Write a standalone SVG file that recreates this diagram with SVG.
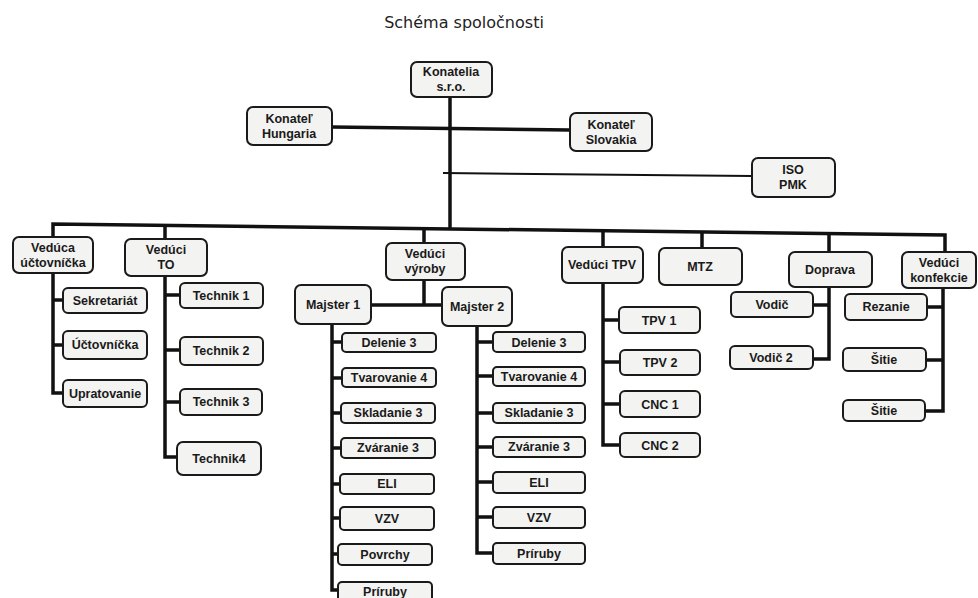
<svg xmlns="http://www.w3.org/2000/svg" width="978" height="598" viewBox="0 0 978 598">
<style>
.bg{fill:#ffffff}
.box{fill:#f3f3f1;stroke:#1a1a1a;stroke-width:2}
.t{font-family:"Liberation Sans",Arial,sans-serif;font-size:12.5px;font-weight:bold;fill:#1a1a1a;text-anchor:middle}
.title{font-family:"DejaVu Sans","Liberation Sans",sans-serif;font-size:16px;fill:#222;text-anchor:middle}
.ln{fill:none;stroke:#111;stroke-width:3.5;stroke-linejoin:miter}
.thin{fill:none;stroke:#111;stroke-width:2}
</style>
<rect class="bg" x="0" y="0" width="978" height="598"/>
<text class="title" x="464" y="28">Schéma spoločnosti</text>
<g id="connectors">
<path class="ln" d="M450,97 V229"/>
<path class="ln" d="M332,127 L570,130"/>
<path class="thin" d="M443,173 L752,176"/>
<path class="ln" d="M53,237 V224 L945,235 V252"/>
<path class="ln" d="M53,273 V393 H63 M53,300 H63 M53,345 H63"/>
<path class="ln" d="M165,225.4 V239 M165,276 V457 H177 M165,295 H180 M165,350 H180 M165,402 H180"/>
<path class="ln" d="M424,228.6 V243 M424,280 V305 M371,305 H442"/>
<path class="ln" d="M332,324 V590 H338 M332,342 H342 M332,378 H342 M332,413 H341 M332,448 H341 M332,484 H340 M332,518 H340 M332,554 H338"/>
<path class="ln" d="M477,326 V553 H493 M477,342 H493 M477,376 H493 M477,413 H493 M477,447 H493 M477,482 H493 M477,517 H493"/>
<path class="ln" d="M603,230.8 V247 M603,283 V445 H620 M603,320 H619 M603,362 H620 M603,404 H620"/>
<path class="ln" d="M702,232 V248"/>
<path class="ln" d="M829,233.6 V252 M829,287 V359 H813 M829,305 H813"/>
<path class="ln" d="M943,288 V411 H925 M943,307 H927 M943,360 H926"/>
</g>
<g id="konatelia"><rect class="box" x="411" y="62" width="81" height="35" rx="6"/><text class="t" x="451" y="76">Konatelia</text><text class="t" x="451" y="91">s.r.o.</text></g>
<g id="hungaria"><rect class="box" x="247" y="107" width="85" height="38" rx="6"/><text class="t" x="289" y="123">Konateľ</text><text class="t" x="289" y="138">Hungaria</text></g>
<g id="slovakia"><rect class="box" x="570" y="113" width="82" height="38" rx="6"/><text class="t" x="611" y="129">Konateľ</text><text class="t" x="611" y="144">Slovakia</text></g>
<g id="iso"><rect class="box" x="752" y="158" width="83" height="39" rx="6"/><text class="t" x="793" y="174">ISO</text><text class="t" x="793" y="189">PMK</text></g>
<g id="veduca-uctovnicka"><rect class="box" x="13" y="237" width="80" height="36" rx="6"/><text class="t" x="53" y="252">Vedúca</text><text class="t" x="53" y="267">účtovníčka</text></g>
<g id="sekretariat"><rect class="box" x="63" y="288" width="84" height="25" rx="5"/><text class="t" x="105" y="305">Sekretariát</text></g>
<g id="uctovnicka"><rect class="box" x="63" y="331" width="84" height="28" rx="5"/><text class="t" x="105" y="349">Účtovníčka</text></g>
<g id="upratovanie"><rect class="box" x="63" y="380" width="84" height="27" rx="5"/><text class="t" x="105" y="398">Upratovanie</text></g>
<g id="veduci-to"><rect class="box" x="125" y="239" width="82" height="37" rx="6"/><text class="t" x="166" y="254">Vedúci</text><text class="t" x="166" y="269">TO</text></g>
<g id="technik1"><rect class="box" x="180" y="283" width="83" height="25" rx="5"/><text class="t" x="221" y="300">Technik 1</text></g>
<g id="technik2"><rect class="box" x="180" y="337" width="83" height="28" rx="5"/><text class="t" x="221" y="355">Technik 2</text></g>
<g id="technik3"><rect class="box" x="180" y="389" width="82" height="26" rx="5"/><text class="t" x="221" y="406">Technik 3</text></g>
<g id="technik4"><rect class="box" x="177" y="442" width="84" height="33" rx="6"/><text class="t" x="219" y="463">Technik4</text></g>
<g id="veduci-vyroby"><rect class="box" x="386" y="243" width="79" height="37" rx="6"/><text class="t" x="425" y="258">Vedúci</text><text class="t" x="425" y="273">výroby</text></g>
<g id="majster1"><rect class="box" x="295" y="285" width="76" height="39" rx="6"/><text class="t" x="333" y="309">Majster 1</text></g>
<g id="majster2"><rect class="box" x="442" y="287" width="70" height="39" rx="6"/><text class="t" x="477" y="311">Majster 2</text></g>
<g id="m1-delenie"><rect class="box" x="342" y="333" width="94" height="19" rx="4"/><text class="t" x="389" y="347">Delenie 3</text></g>
<g id="m1-tvarovanie"><rect class="box" x="342" y="368" width="94" height="19" rx="4"/><text class="t" x="389" y="382">Tvarovanie 4</text></g>
<g id="m1-skladanie"><rect class="box" x="341" y="403" width="94" height="20" rx="4"/><text class="t" x="388" y="417">Skladanie 3</text></g>
<g id="m1-zvaranie"><rect class="box" x="341" y="438" width="94" height="20" rx="4"/><text class="t" x="388" y="452">Zváranie 3</text></g>
<g id="m1-eli"><rect class="box" x="340" y="474" width="94" height="20" rx="4"/><text class="t" x="387" y="488">ELI</text></g>
<g id="m1-vzv"><rect class="box" x="340" y="507" width="94" height="23" rx="4"/><text class="t" x="387" y="523">VZV</text></g>
<g id="m1-povrchy"><rect class="box" x="338" y="544" width="94" height="21" rx="4"/><text class="t" x="385" y="559">Povrchy</text></g>
<g id="m1-priruby"><rect class="box" x="338" y="582" width="94" height="20" rx="4"/><text class="t" x="385" y="596">Príruby</text></g>
<g id="m2-delenie"><rect class="box" x="493" y="332" width="92" height="20" rx="4"/><text class="t" x="539" y="347">Delenie 3</text></g>
<g id="m2-tvarovanie"><rect class="box" x="493" y="367" width="92" height="19" rx="4"/><text class="t" x="539" y="381">Tvarovanie 4</text></g>
<g id="m2-skladanie"><rect class="box" x="493" y="403" width="92" height="20" rx="4"/><text class="t" x="539" y="417">Skladanie 3</text></g>
<g id="m2-zvaranie"><rect class="box" x="493" y="437" width="92" height="20" rx="4"/><text class="t" x="539" y="451">Zváranie 3</text></g>
<g id="m2-eli"><rect class="box" x="493" y="472" width="92" height="21" rx="4"/><text class="t" x="539" y="487">ELI</text></g>
<g id="m2-vzv"><rect class="box" x="493" y="507" width="92" height="21" rx="4"/><text class="t" x="539" y="522">VZV</text></g>
<g id="m2-priruby"><rect class="box" x="493" y="543" width="92" height="21" rx="4"/><text class="t" x="539" y="558">Príruby</text></g>
<g id="veduci-tpv"><rect class="box" x="562" y="247" width="81" height="36" rx="6"/><text class="t" x="602" y="269">Vedúci TPV</text></g>
<g id="tpv1"><rect class="box" x="619" y="307" width="81" height="26" rx="5"/><text class="t" x="659" y="325">TPV 1</text></g>
<g id="tpv2"><rect class="box" x="620" y="350" width="80" height="25" rx="5"/><text class="t" x="660" y="367">TPV 2</text></g>
<g id="cnc1"><rect class="box" x="620" y="391" width="80" height="26" rx="5"/><text class="t" x="660" y="409">CNC 1</text></g>
<g id="cnc2"><rect class="box" x="620" y="433" width="80" height="24" rx="5"/><text class="t" x="660" y="450">CNC 2</text></g>
<g id="mtz"><rect class="box" x="659" y="248" width="83" height="37" rx="6"/><text class="t" x="700" y="271">MTZ</text></g>
<g id="doprava"><rect class="box" x="789" y="252" width="83" height="35" rx="6"/><text class="t" x="830" y="274">Doprava</text></g>
<g id="vodic"><rect class="box" x="731" y="292" width="82" height="25" rx="5"/><text class="t" x="772" y="309">Vodič</text></g>
<g id="vodic2"><rect class="box" x="730" y="346" width="83" height="23" rx="5"/><text class="t" x="771" y="362">Vodič 2</text></g>
<g id="veduci-konfekcie"><rect class="box" x="902" y="252" width="74" height="36" rx="6"/><text class="t" x="939" y="267">Vedúci</text><text class="t" x="939" y="282">konfekcie</text></g>
<g id="rezanie"><rect class="box" x="845" y="294" width="82" height="26" rx="5"/><text class="t" x="886" y="311">Rezanie</text></g>
<g id="sitie1"><rect class="box" x="843" y="348" width="83" height="23" rx="5"/><text class="t" x="884" y="364">Šitie</text></g>
<g id="sitie2"><rect class="box" x="843" y="400" width="82" height="21" rx="5"/><text class="t" x="884" y="415">Šitie</text></g>
</svg>
